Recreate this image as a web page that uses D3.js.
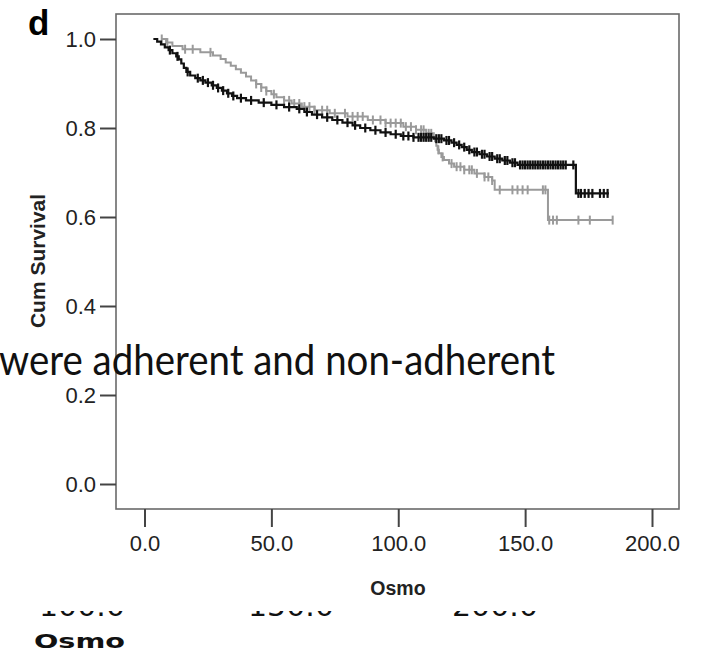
<!DOCTYPE html>
<html><head><meta charset="utf-8">
<script src="https://cdn.jsdelivr.net/npm/d3@7"></script>
<style>html,body{margin:0;padding:0;background:#fff}svg{display:block}</style>
</head><body>
<script>
// ---- data ----
const xTicks = [0, 50, 100, 150, 200];
const yTicks = [0, 0.2, 0.4, 0.6, 0.8, 1.0];
const xTitle = "Osmo";
const yTitle = "Cum Survival";
const panelLabel = "d";
const overlayText = "were adherent and non-adherent";
const bottomLabels = ["100.0", "150.0", "200.0"];
const bottomTitle = "Osmo";

// black series: [time, survival after step]
const blackSteps = [[3.5,1.0],[5,0.994],[6.5,0.988],[8,0.981],[9.5,0.975],[11,0.968],[12.5,0.961],[13.5,0.954],[14.5,0.945],[15.5,0.935],[16.5,0.926],[18,0.918],[20,0.912],[22,0.907],[24,0.902],[26.5,0.896],[28.5,0.89],[30.5,0.884],[32.5,0.878],[34.5,0.872],[36.5,0.867],[40,0.862],[45,0.857],[50,0.852],[55,0.847],[60,0.843],[63,0.836],[66,0.83],[70,0.824],[74,0.818],[78,0.812],[82,0.806],[85,0.8],[89,0.795],[93,0.79],[97,0.786],[101,0.782],[106,0.779],[114,0.776],[118,0.772],[121,0.767],[123,0.762],[125,0.757],[127,0.751],[129,0.746],[132,0.741],[135,0.736],[138,0.731],[141,0.727],[144,0.722],[147,0.717],[170,0.653],[183,0.653]];
const blackCensor = [10,13,17,21,23,25,27,29,31,33,35,38,42,47,52,57,61,64,68,72,76,80,83,87,91,95,99,102,104,106,108,109,110,111,112,113,115,116,117,119,120,122,124,126,128,130,131,133,134,136,137,139,140,142,143,145,146,148,149,150,151,152,153,154,155,156,157,158,159,160,161,162,163,164,165,166,169,171,172,173.5,175,176.5,179.5,181,182.5];

// gray series
const graySteps = [[6.5,1.0],[8.5,0.992],[11,0.984],[15,0.977],[22,0.97],[27,0.963],[30,0.955],[32,0.947],[34,0.94],[36,0.932],[38,0.924],[40,0.916],[42,0.907],[44,0.899],[46,0.891],[48,0.883],[50,0.876],[52,0.869],[55,0.862],[58,0.855],[62,0.848],[67,0.84],[73,0.833],[80,0.826],[88,0.818],[95,0.811],[102,0.803],[107,0.796],[111,0.788],[114,0.78],[114.5,0.77],[115,0.76],[115.5,0.751],[116,0.743],[117,0.735],[118,0.728],[120,0.72],[122,0.713],[126,0.706],[130,0.698],[134,0.69],[137,0.682],[138,0.661],[159,0.593],[184.5,0.593]];
const grayCensor = [6.8,9,16,19,26,44,46,48,51,55,57,59,61,63,65,67,70,72,75,79,82,84,86,90,93,95,97,99,101,103,105,107,109,110,112,113,115.8,117.5,121,123,124.5,126,128,129,131,134,135.5,137,140,145,147,149,151,157,158,159.5,161,162.5,171,175.5,184.5];

// ---- layout ----
const W = 713, H = 652;
const svg = d3.select("body").append("svg").attr("width", W).attr("height", H)
  .style("font-family", "'Liberation Sans', Arial, sans-serif");

const x = d3.scaleLinear().domain([0, 200]).range([144.5, 652]);
const y = d3.scaleLinear().domain([0, 1]).range([484, 39]);
const frame = {l:116, r:679, t:14, b:509};

// frame
svg.append("rect").attr("x", frame.l).attr("y", frame.t)
  .attr("width", frame.r - frame.l).attr("height", frame.b - frame.t)
  .attr("fill", "none").attr("stroke", "#6a6a6a").attr("stroke-width", 1.6);

// y axis
const yAxis = d3.axisLeft(y).tickValues(yTicks).tickFormat(d3.format(".1f")).tickSize(16).tickSizeOuter(0).tickPadding(4);
const gy = svg.append("g").attr("transform", `translate(${frame.l},0)`).call(yAxis);
gy.select(".domain").remove();
gy.selectAll("line").attr("stroke", "#444").attr("stroke-width", 2);
gy.selectAll("text").attr("font-size", 22).attr("fill", "#222").attr("font-family", "'Liberation Sans', Arial, sans-serif");

// x axis
const xAxis = d3.axisBottom(x).tickValues(xTicks).tickFormat(d3.format(".1f")).tickSize(18).tickSizeOuter(0).tickPadding(8);
const gx = svg.append("g").attr("transform", `translate(0,${frame.b})`).call(xAxis);
gx.select(".domain").remove();
gx.selectAll("line").attr("stroke", "#444").attr("stroke-width", 2);
gx.selectAll("text").attr("font-size", 22).attr("fill", "#222").attr("font-family", "'Liberation Sans', Arial, sans-serif");

// titles
svg.append("text").attr("x", 398).attr("y", 595).attr("text-anchor", "middle")
  .attr("font-size", 19.5).attr("font-weight", "bold").attr("fill", "#222").text(xTitle);
svg.append("text").attr("transform", "translate(45,261) rotate(-90)").attr("text-anchor", "middle")
  .attr("font-size", 21).attr("font-weight", "bold").attr("fill", "#222").text(yTitle);
svg.append("text").attr("x", 28).attr("y", 35).attr("font-size", 35).attr("font-weight", "bold")
  .attr("fill", "#000").text(panelLabel);

// curves
const line = d3.line().x(d => x(d[0])).y(d => y(d[1])).curve(d3.curveStepAfter);
function survAt(steps, t) {
  let s = steps[0][1];
  for (const p of steps) { if (p[0] <= t) s = p[1]; else break; }
  return s;
}
function drawSeries(steps, censor, color, w) {
  svg.append("path").datum(steps).attr("d", line).attr("fill", "none")
    .attr("stroke", color).attr("stroke-width", w);
  svg.append("g").selectAll("line").data(censor).join("line")
    .attr("x1", d => x(d)).attr("x2", d => x(d))
    .attr("y1", d => y(survAt(steps, d)) - 4.5).attr("y2", d => y(survAt(steps, d)) + 4.5)
    .attr("stroke", color).attr("stroke-width", w);
}
drawSeries(graySteps, grayCensor, "#9a9a9a", 2);
drawSeries(blackSteps, blackCensor, "#111", 2.2);

// overlay text
svg.append("text").attr("x", -1).attr("y", 375).attr("font-family", "Lato, 'Open Sans', sans-serif")
  .attr("font-size", 42).attr("fill", "#111").attr("textLength", 556).attr("lengthAdjust", "spacingAndGlyphs")
  .text(overlayText);

// bottom cut-off fragment
const defs = svg.append("defs");
defs.append("clipPath").attr("id", "cutoff").append("rect").attr("x", 0).attr("y", 611).attr("width", W).attr("height", 8);
const bx = d3.scaleOrdinal().domain(bottomLabels).range([82, 291, 495]);
svg.append("g").attr("clip-path", "url(#cutoff)").selectAll("text").data(bottomLabels).join("text")
  .attr("x", d => bx(d)).attr("y", 616).attr("text-anchor", "middle")
  .attr("font-family", "'DejaVu Sans', Verdana, sans-serif").attr("font-size", 28)
  .attr("textLength", 86).attr("lengthAdjust", "spacingAndGlyphs").attr("fill", "#111").text(d => d);
svg.append("text").attr("x", 34).attr("y", 648).attr("font-family", "'DejaVu Sans', Verdana, sans-serif")
  .attr("font-weight", "bold").attr("font-size", 19).attr("textLength", 91).attr("lengthAdjust", "spacingAndGlyphs")
  .attr("fill", "#111").text(bottomTitle);
</script>
</body></html>
